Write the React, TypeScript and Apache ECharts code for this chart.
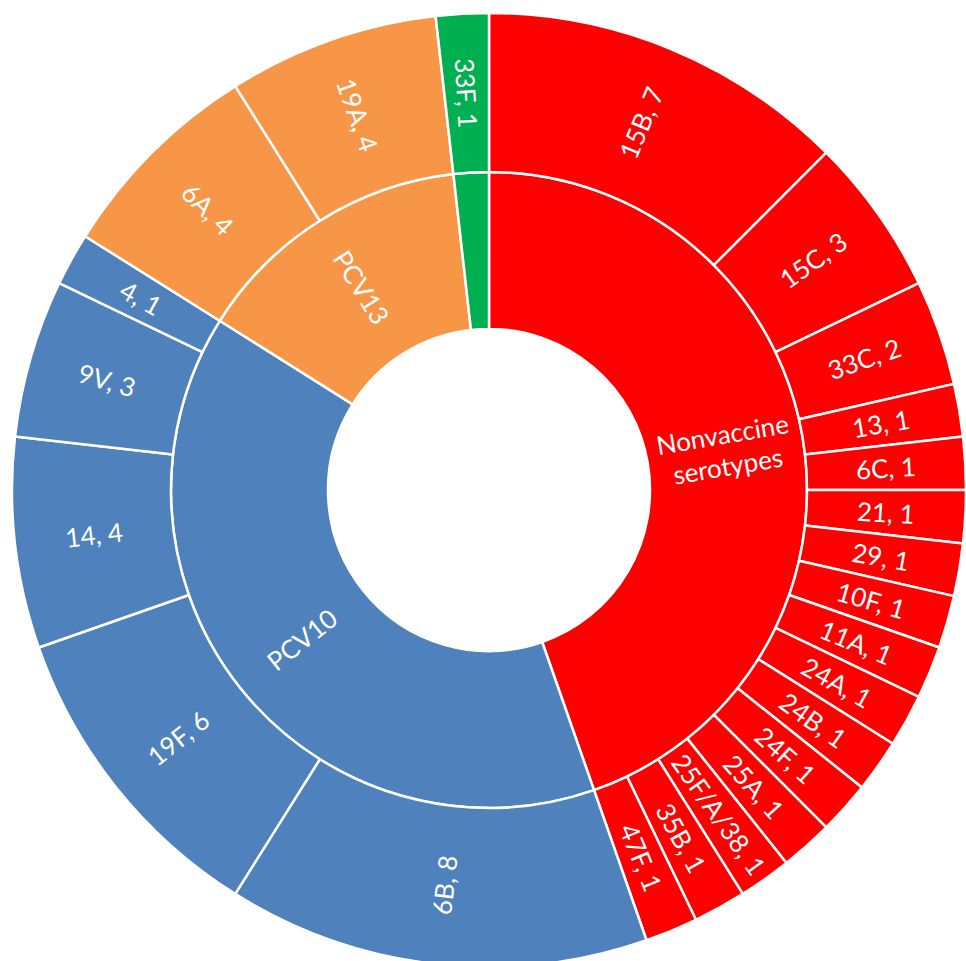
import React, { useEffect, useRef } from "react";
import * as echarts from "echarts";

const groupNames = ["Nonvaccine\nserotypes", "PCV10", "PCV13", ""];
const groupColors = ["#FF0000", "#4F81BD", "#F79646", "#00B050"];

const nonvaccineNames = ["15B", "15C", "33C", "13", "6C", "21", "29", "10F", "11A", "24A", "24B", "24F", "25A", "25F/A/38", "35B", "47F"];
const nonvaccineValues = [7, 3, 2, 1, 1, 1, 1, 1, 1, 1, 1, 1, 1, 1, 1, 1];
const pcv10Names = ["6B", "19F", "14", "9V", "4"];
const pcv10Values = [8, 6, 4, 3, 1];
const pcv13Names = ["6A", "19A"];
const pcv13Values = [4, 4];
const otherNames = ["33F"];
const otherValues = [1];

const childNames = [nonvaccineNames, pcv10Names, pcv13Names, otherNames];
const childValues = [nonvaccineValues, pcv10Values, pcv13Values, otherValues];

export default function App() {
  const ref = useRef<HTMLDivElement>(null);
  useEffect(() => {
    if (!ref.current) return;
    const chart = echarts.init(ref.current, undefined, { renderer: "svg" });
    const data = groupNames.map((g, gi) => ({
      name: g,
      itemStyle: { color: groupColors[gi] },
      label: { show: g !== "" },
      children: childNames[gi].map((n, i) => ({
        name: n,
        value: childValues[gi][i],
        itemStyle: { color: groupColors[gi] },
        label: { formatter: `${n}, ${childValues[gi][i]}` },
      })),
    }));
    chart.setOption({
      animation: false,
      series: [
        {
          type: "sunburst",
          center: [489, 490],
          radius: [161, 477],
          sort: null,
          nodeClick: false,
          startAngle: 90,
          clockwise: true,
          emphasis: { disabled: true },
          itemStyle: { borderColor: "#ffffff", borderWidth: 2.5 },
          label: {
            rotate: "radial",
            color: "#ffffff",
            fontFamily: "Lato",
            fontSize: 26,
            lineHeight: 32,
          },
          levels: [
            {},
            { r0: 161, r: 318 },
            { r0: 318, r: 477 },
          ],
          data,
        },
      ],
    });
    return () => chart.dispose();
  }, []);
  return (
    <div
      ref={ref}
      style={{ position: "fixed", left: 0, top: 0, width: 966, height: 961, background: "#ffffff" }}
    />
  );
}
